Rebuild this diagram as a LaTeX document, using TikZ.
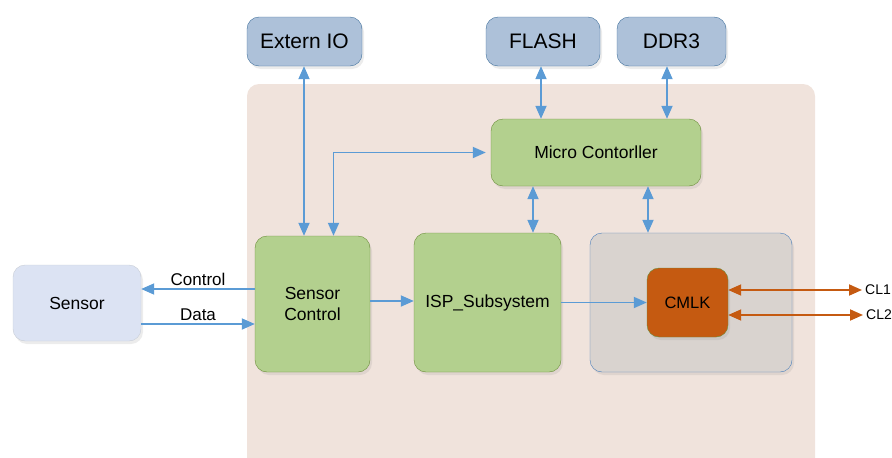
\documentclass[tikz,border=0pt]{standalone}
\usepackage{fontspec}
\setmainfont{Liberation Sans}
\usetikzlibrary{arrows.meta, positioning, calc, shadows}
\definecolor{linkblue}{HTML}{5B9BD5}
\definecolor{linkorange}{HTML}{C55A11}
\definecolor{panelfill}{HTML}{F0E3DC}
\definecolor{greenfill}{HTML}{B3D08E}
\definecolor{greenline}{HTML}{6B8E3A}
\definecolor{topfill}{HTML}{ADC1D9}
\definecolor{topline}{HTML}{41719C}
\definecolor{sensfill}{HTML}{DCE3F3}
\definecolor{sensline}{HTML}{C8CDD6}
\definecolor{grayfill}{HTML}{D9D3CF}
\definecolor{grayline}{HTML}{4A7EBB}
\tikzset{
  blk/.style={
    rectangle, rounded corners=12pt, inner sep=0pt, align=center,
    drop shadow={opacity=0.15, shadow xshift=2pt, shadow yshift=-3pt}
  },
  extbox/.style={blk, draw=topline, fill=topfill, minimum height=49pt,
    font=\fontsize{21}{24}\selectfont},
  subbox/.style={blk, draw=greenline, fill=greenfill, font=\fontsize{17.5}{21}\selectfont},
  sensbox/.style={blk, draw=sensline, fill=sensfill, font=\fontsize{17.5}{21}\selectfont},
  clkbox/.style={blk, draw=greenline, fill=linkorange, font=\fontsize{16.5}{20}\selectfont},
  tip/.style={Triangle[length=13pt, width=11pt]},
  link/.style={-{Triangle[length=13pt, width=11pt]}, draw=linkblue, line width=1.8pt},
  bilink/.style={link, {Triangle[length=13pt, width=11pt]}-{Triangle[length=13pt, width=11pt]}},
  clklink/.style={{Triangle[length=13pt, width=11pt]}-{Triangle[length=13pt, width=11pt]},
    draw=linkorange, line width=1.8pt},
  lbl/.style={font=\fontsize{17}{20}\selectfont, inner sep=2pt},
  clbl/.style={font=\fontsize{14}{17}\selectfont, inner sep=1pt}
}
\begin{document}
\begin{tikzpicture}[x=1pt, y=-1pt]
    \useasboundingbox (0,0) rectangle (892,458);
    % chip area
    \begin{scope}
      \clip (0,0) rectangle (892,458);
      \fill[panelfill, rounded corners=12pt] (247,84) rectangle (815,480);
    \end{scope}
    % external parts
    \node[extbox, minimum width=115pt] (ext) at (304.5,41.5) {Extern IO};
    \node[extbox, minimum width=114pt] (flash) at (543,41.5) {FLASH};
    \node[extbox, minimum width=109pt] (ddr) at (671.5,41.5) {DDR3};
    \node[sensbox, minimum width=128pt, minimum height=76pt] (sensor) at (77,303) {Sensor};
    % inner blocks
    \node[subbox, minimum width=210pt, minimum height=67pt] (mc) at (596,152.5) {Micro Contorller};
    \node[subbox, minimum width=115pt, minimum height=136pt] (sc) at (312.5,304) {Sensor\\Control};
    \node[subbox, minimum width=147pt, minimum height=139pt] (isp) at (487.5,302.5) {ISP\_Subsystem};
    \node[blk, draw=grayline, fill=grayfill, minimum width=202pt, minimum height=139pt] (clk) at (691,302.5) {};
    \node[clkbox, minimum width=81pt, minimum height=69pt] (cmlk) at (687.5,302.5) {CMLK};
    \node[clbl, anchor=west] (cl1) at (864,290) {CL1};
    \node[clbl, anchor=west] (cl2) at (865,315) {CL2};
    % links
    \draw[bilink] ([xshift=-0.5pt]ext.south) -- ([xshift=-0.5pt]ext.south |- sc.north);
    \draw[bilink, shorten <=5pt] (mc.west) -| ([xshift=21pt]sc.north);
    \draw[bilink] ([xshift=-2pt]flash.south) -- ([xshift=-2pt]flash.south |- mc.north);
    \draw[bilink] ([xshift=-4.5pt]ddr.south) -- ([xshift=-4.5pt]ddr.south |- mc.north);
    \draw[bilink] ([xshift=-63pt]mc.south) -- ([xshift=-63pt]mc.south |- isp.north);
    \draw[bilink] ([xshift=52pt]mc.south) -- ([xshift=52pt]mc.south |- clk.north);
    \draw[link] ([yshift=15pt]sc.west) -- ([yshift=15pt]sc.west -| sensor.east)
      node[lbl, midway, above] (ctl) {Control};
    \draw[link] ([yshift=-20pt]sc.west -| sensor.east) -- ([yshift=-20pt]sc.west)
      node[lbl, midway, above] (dat) {Data};
    \draw[link] ([yshift=3pt]sc.east) -- ([yshift=3pt]sc.east -| isp.west);
    \draw[link] (isp.east) -- (cmlk.west);
    \draw[clklink, shorten >=2pt] (cmlk.east |- cl1.west) -- (cl1.west);
    \draw[clklink, shorten >=2pt] (cmlk.east |- cl2.west) -- (cl2.west);
\end{tikzpicture}
\end{document}
